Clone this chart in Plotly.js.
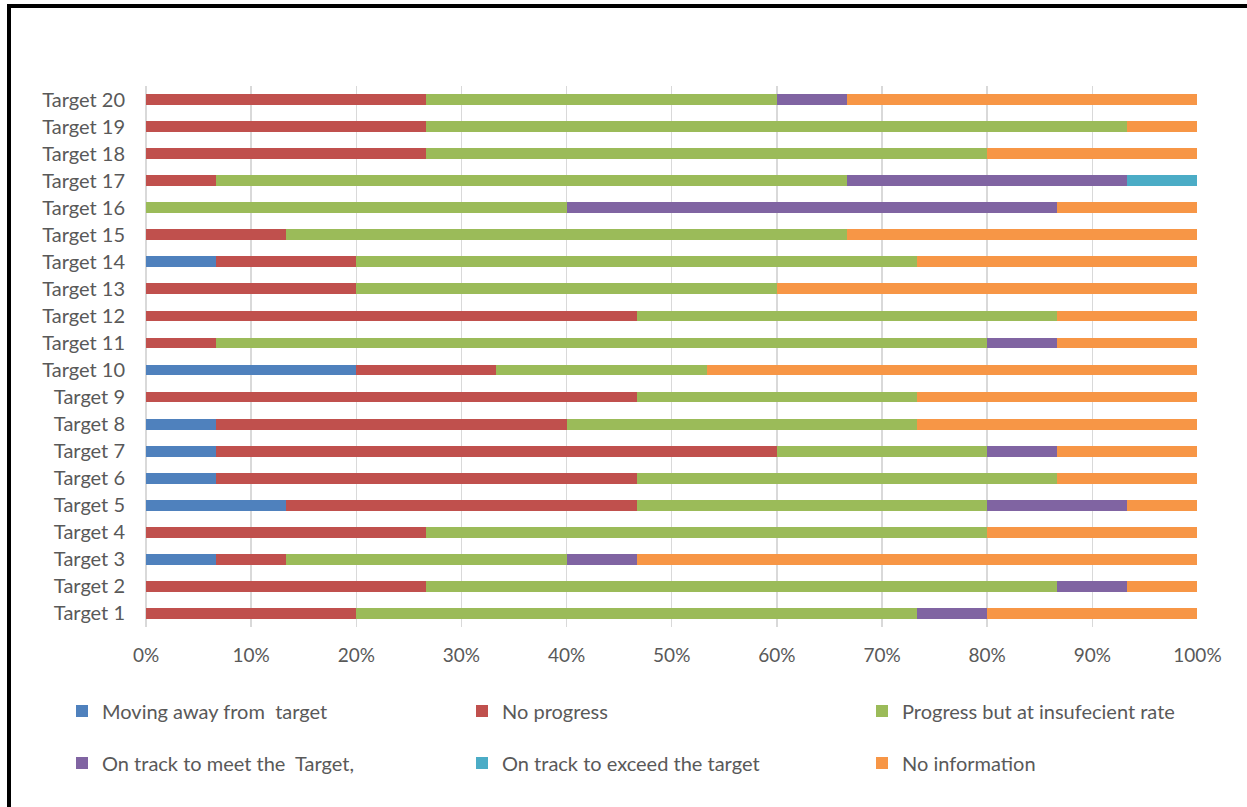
<!DOCTYPE html>
<html>
<head>
<meta charset="utf-8">
<script src="https://cdn.plot.ly/plotly-3.0.1.min.js"></script>
<style>
  html, body { margin: 0; padding: 0; background: #fff; }
  #chart { width: 1247px; height: 807px; position: relative; }
  #frame { position: absolute; left: 7px; top: 4px; right: -10px; bottom: -10px;
           border-left: 4px solid #000; border-top: 4px solid #000; pointer-events: none; }
</style>
</head>
<body>
<div id="chart"><div id="frame"></div></div>
<script>
// Categories (bottom to top)
const targets = ['Target 1','Target 2','Target 3','Target 4','Target 5','Target 6','Target 7','Target 8','Target 9','Target 10',
                 'Target 11','Target 12','Target 13','Target 14','Target 15','Target 16','Target 17','Target 18','Target 19','Target 20'];

// Number of parties in each assessment class (out of 15 per target)
const movingAway     = [0,0,1,0,2,1,1,1,0,3, 0,0,0,1,0,0,0,0,0,0];
const noProgress     = [3,4,1,4,5,6,8,5,7,2, 1,7,3,2,2,0,1,4,4,4];
const insufficient   = [8,9,4,8,5,6,3,5,4,3, 11,6,6,8,8,6,9,8,10,5];
const onTrackMeet    = [1,1,1,0,2,0,1,0,0,0, 1,0,0,0,0,7,4,0,0,1];
const onTrackExceed  = [0,0,0,0,0,0,0,0,0,0, 0,0,0,0,0,0,1,0,0,0];
const noInformation  = [3,1,8,3,1,2,2,4,4,7, 2,2,6,4,5,2,0,3,1,5];

const seriesNames = ['Moving away from \u00a0target', 'No progress', 'Progress but at insufecient rate',
                     'On track to meet the \u00a0Target,', 'On track to exceed the target', 'No information'];
const seriesValues = [movingAway, noProgress, insufficient, onTrackMeet, onTrackExceed, noInformation];
const seriesColors = ['#4F81BD', '#C0504D', '#9BBB59', '#8064A2', '#4BACC6', '#F79646'];
const xTickVals = [0,10,20,30,40,50,60,70,80,90,100];
const xTickText = ['0%','10%','20%','30%','40%','50%','60%','70%','80%','90%','100%'];

const legendIds = ['legend','legend2','legend3','legend4','legend5','legend6'];

const traces = seriesValues.map((vals, i) => ({
  type: 'bar',
  orientation: 'h',
  name: seriesNames[i],
  x: vals,
  y: targets,
  marker: { color: seriesColors[i], line: { width: 0 } },
  legend: legendIds[i],
  hovertemplate: '%{y}: %{x}<extra>' + seriesNames[i] + '</extra>'
}));

const W = 1247, H = 807;
const L = 146, R = 49, T = 86, B = 180;
const pw = W - L - R, ph = H - T - B;
const px = v => (v - L) / pw;
const py = v => (H - B - v) / ph;

const fontBase = { family: 'Lato, "DejaVu Sans", sans-serif', size: 20, color: '#595959' };
const tickFont = { family: 'Lato, "DejaVu Sans", sans-serif', size: 19, color: '#595959' };
const colStarts = [62, 462, 862];
const rowCenters = [711, 763];

const layout = {
  width: W, height: H,
  margin: { l: L, r: R, t: T, b: B },
  paper_bgcolor: 'rgba(0,0,0,0)',
  plot_bgcolor: '#ffffff',
  barmode: 'stack',
  barnorm: 'percent',
  bargap: 0.6,
  font: fontBase,
  xaxis: {
    range: [0, 100.05],
    tickvals: xTickVals,
    ticktext: xTickText,
    showgrid: true,
    gridcolor: '#d9d9d9',
    gridwidth: 1.5,
    zeroline: true,
    zerolinecolor: '#d9d9d9',
    zerolinewidth: 1.5,
    showline: false,
    ticks: '',
    ticklabelstandoff: 15,
    tickfont: tickFont,
    fixedrange: true
  },
  yaxis: {
    type: 'category',
    categoryorder: 'array',
    categoryarray: targets,
    showgrid: false,
    zeroline: false,
    showline: false,
    ticks: '',
    ticklabelstandoff: 20,
    tickfont: fontBase,
    fixedrange: true
  },
  showlegend: true
};

legendIds.forEach((id, i) => {
  const col = i % 3, row = Math.floor(i / 3);
  layout[id] = {
    x: px(colStarts[col]),
    y: py(rowCenters[row]),
    xanchor: 'left',
    yanchor: 'middle',
    orientation: 'h',
    bgcolor: 'rgba(0,0,0,0)',
    borderwidth: 0,
    font: fontBase
  };
});

Plotly.newPlot('chart', traces, layout, { displayModeBar: false, staticPlot: true });
</script>
</body>
</html>
